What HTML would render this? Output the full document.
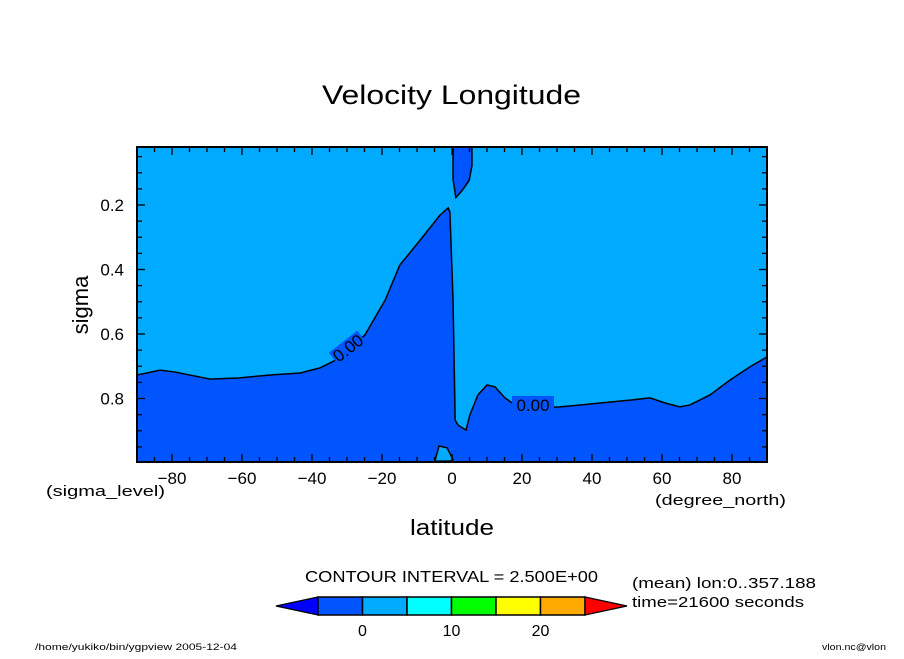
<!DOCTYPE html>
<html><head><meta charset="utf-8"><style>
body{margin:0;background:#fff}
svg text{font-family:"Liberation Sans",sans-serif;fill:#000}
</style></head><body>
<svg id="chart" width="904" height="654" viewBox="0 0 904 654" xmlns="http://www.w3.org/2000/svg">
<text x="322" y="104" font-size="27" textLength="259" lengthAdjust="spacingAndGlyphs">Velocity Longitude</text>
<g id="plot"></g>
<text x="410" y="535" font-size="22" textLength="84" lengthAdjust="spacingAndGlyphs">latitude</text>
<text transform="translate(88,305) rotate(-90)" font-size="22" text-anchor="middle">sigma</text>
<text x="46" y="496" font-size="15" textLength="119" lengthAdjust="spacingAndGlyphs">(sigma_level)</text>
<text x="655" y="505" font-size="15" textLength="131" lengthAdjust="spacingAndGlyphs">(degree_north)</text>
<text x="305" y="582" font-size="16" textLength="293" lengthAdjust="spacingAndGlyphs">CONTOUR INTERVAL = 2.500E+00</text>
<text x="632" y="588" font-size="15" textLength="184" lengthAdjust="spacingAndGlyphs">(mean) lon:0..357.188</text>
<text x="632" y="607" font-size="15" textLength="172" lengthAdjust="spacingAndGlyphs">time=21600 seconds</text>
<text x="35" y="650" font-size="9" textLength="202" lengthAdjust="spacingAndGlyphs">/home/yukiko/bin/ygpview  2005-12-04</text>
<text x="822" y="650" font-size="9" textLength="64" lengthAdjust="spacingAndGlyphs">vlon.nc@vlon</text>
<g id="cbar"></g>
</svg>
<script>
const NS="http://www.w3.org/2000/svg";
const boundaryLat=[-90,-83.4,-79.1,-69.1,-60.6,-52,-43.4,-37.7,-32,-24.9,-19.1,-14.9,-9.1,-3.4,-1.1,-0.6,0.3,0.9,1.7,4,5.1,7.4,10,12.3,15.1,18,25.1,30.9,36.6,42.3,50.9,56.6,60.9,65.1,68,73.7,79.4,85.1,90];
const boundarySigma=[0.727,0.712,0.718,0.74,0.736,0.727,0.721,0.705,0.674,0.603,0.495,0.386,0.309,0.231,0.209,0.222,0.495,0.867,0.882,0.898,0.851,0.789,0.758,0.764,0.798,0.82,0.829,0.826,0.82,0.814,0.805,0.798,0.814,0.826,0.82,0.789,0.743,0.702,0.671];
const topBlobLat=[0.3,0.3,1.1,2.9,4.9,5.7,5.7];
const topBlobSigma=[0.02,0.12,0.177,0.155,0.124,0.078,0.02];
const botBlobLat=[-4.9,-3.7,-1.4,0.3,-0.6,-4.6];
const botBlobSigma=[0.994,0.947,0.953,0.99,0.994,0.994];
const xTicks=[-80,-60,-40,-20,0,20,40,60,80];
const yTicks=[0.2,0.4,0.6,0.8];
const cbarLabels=["0","10","20"];
const cbarColors=["#0055ff","#00aaff","#00ffff","#00ff00","#ffff00","#ffaa00"];
const X0=137,X1=767,Y0=147,Y1=462;
const xs=v=>452+v*3.5;
const ys=v=>205+(v-0.2)*322.5;
const plot=document.getElementById('plot');
function mk(tag,attrs,parent){const e=document.createElementNS(NS,tag);for(const k in attrs)e.setAttribute(k,attrs[k]);(parent||plot).appendChild(e);return e;}
const clip=mk('clipPath',{id:'pc'});mk('rect',{x:X0,y:Y0,width:X1-X0,height:Y1-Y0},clip);
const bg=mk('rect',{x:X0,y:Y0,width:X1-X0,height:Y1-Y0,fill:'#00aaff'});


const pts=boundaryLat.map((l,i)=>xs(l)+','+ys(boundarySigma[i])).join(' ');
const neg=mk('polygon',{points:pts+' '+X1+','+Y1+' '+X0+','+Y1,fill:'#0055ff','clip-path':'url(#pc)'});


const line=mk('polyline',{points:pts,fill:'none',stroke:'#000','stroke-width':1.5,'clip-path':'url(#pc)'});


const tb=mk('polygon',{points:topBlobLat.map((l,i)=>xs(l)+','+ys(topBlobSigma[i])).join(' '),fill:'#0055ff',stroke:'#000','stroke-width':1.5,'clip-path':'url(#pc)'});


const bb=mk('polygon',{points:botBlobLat.map((l,i)=>xs(l)+','+ys(botBlobSigma[i])).join(' '),fill:'#00aaff',stroke:'#000','stroke-width':1.5,'clip-path':'url(#pc)'});


const l1=mk('rect',{x:330,y:340,width:36,height:16,fill:'#0055ff',transform:'rotate(-38 348 348)'});
const t1=mk('text',{x:348,y:354,'font-size':17,'text-anchor':'middle',transform:'rotate(-38 348 348)'});t1.textContent='0.00';


const l2=mk('rect',{x:512,y:396,width:42,height:16,fill:'#0055ff'});
const t2=mk('text',{x:533,y:411,'font-size':17,'text-anchor':'middle'});t2.textContent='0.00';


const fr=mk('rect',{x:X0,y:Y0,width:X1-X0,height:Y1-Y0,fill:'none',stroke:'#000','stroke-width':2});


for(let v=-90;v<=90;v+=5){const maj=v%20===0;const len=maj?8:5;
mk('line',{x1:xs(v),x2:xs(v),y1:Y1,y2:Y1-len,stroke:'#000','stroke-width':1.3});
mk('line',{x1:xs(v),x2:xs(v),y1:Y0,y2:Y0+len,stroke:'#000','stroke-width':1.3});}
for(let k=1;k<=19;k++){const v=k*0.05;const maj=k%4===0;const len=maj?8:5;const y=ys(v);if(y<Y0||y>Y1)continue;
mk('line',{x1:X0,x2:X0+len,y1:y,y2:y,stroke:'#000','stroke-width':1.3});
mk('line',{x1:X1,x2:X1-len,y1:y,y2:y,stroke:'#000','stroke-width':1.3});}
xTicks.forEach(v=>{const t=mk('text',{x:xs(v),y:484,'font-size':17,'text-anchor':'middle'});t.textContent=(v<0?'\u2212'+(-v):v);

});
yTicks.forEach(v=>{const t=mk('text',{x:124,y:ys(v)+6,'font-size':17,'text-anchor':'end'});t.textContent=v.toFixed(1);

});
const cb=document.getElementById('cbar');
const cx0=318,cw=44.5,cy=597,ch=18;
const lt=mk('polygon',{points:`${cx0},${cy} 276,${cy+ch/2} ${cx0},${cy+ch}`,fill:'#0000ff',stroke:'#000','stroke-width':1.3},cb);


cbarColors.forEach((c,i)=>{const r=mk('rect',{x:cx0+i*cw,y:cy,width:cw,height:ch,fill:c,stroke:'#000','stroke-width':1.5},cb);

});
const rx=cx0+6*cw;
const rt=mk('polygon',{points:`${rx},${cy} 627,${cy+ch/2} ${rx},${cy+ch}`,fill:'#ff0000',stroke:'#000','stroke-width':1.3},cb);


cbarLabels.forEach((s,i)=>{const t=mk('text',{x:cx0+cw+i*2*cw,y:636,'font-size':16,'text-anchor':'middle'},cb);t.textContent=s;

});
</script>
</body></html>
